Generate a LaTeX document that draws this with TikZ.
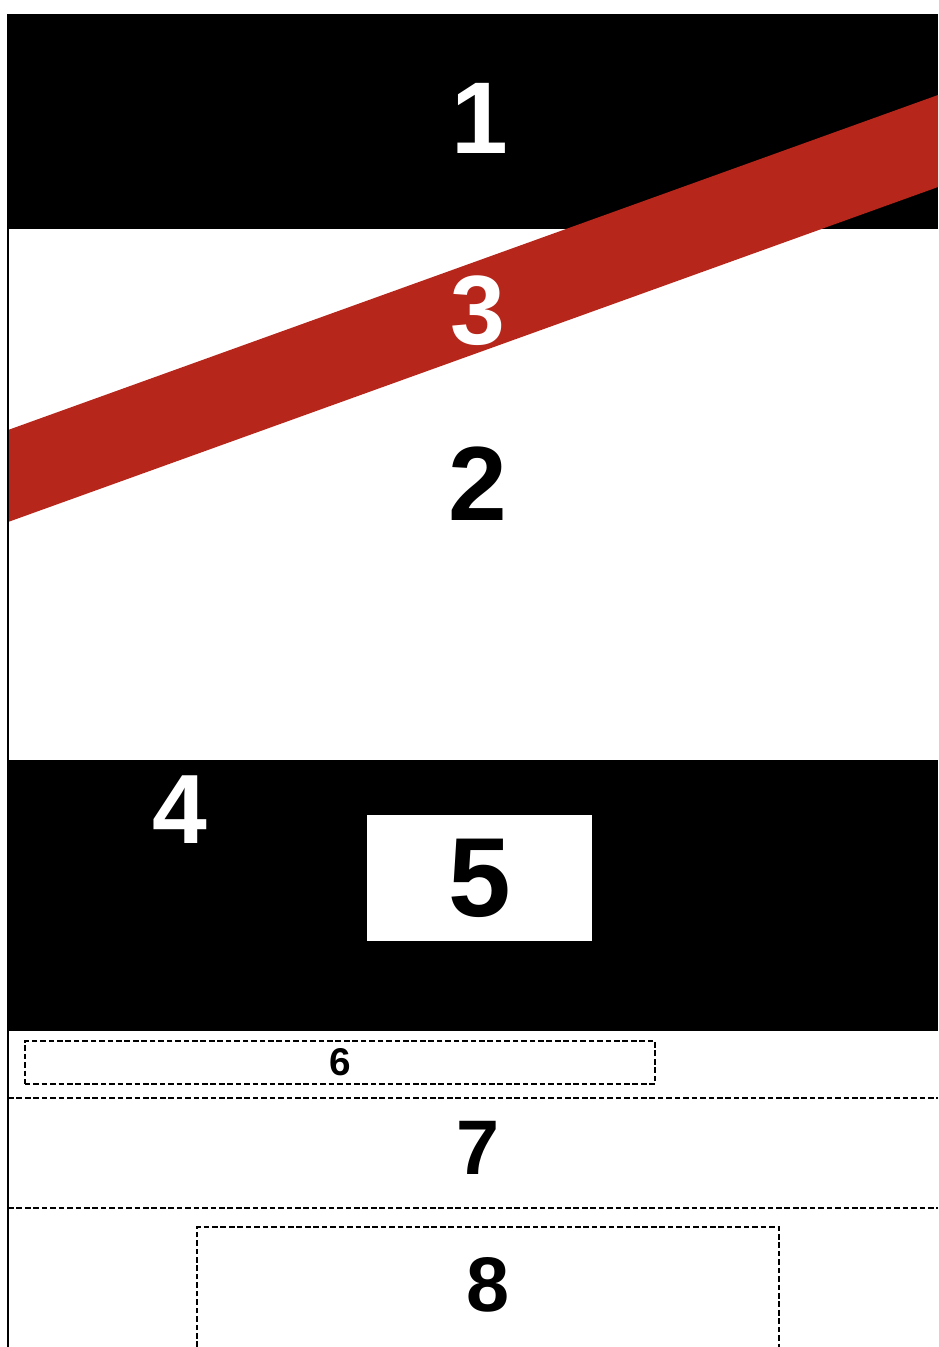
\documentclass[tikz,border=0pt]{standalone}
\usepackage{fontspec}
\setmainfont{Liberation Sans}
\usetikzlibrary{positioning}
\definecolor{bandred}{RGB}{183,38,27}

\begin{document}
\begin{tikzpicture}[
  x=0.01cm, y=-0.01cm,
  digit/.style={font=\bfseries, inner sep=0pt},
  dashline/.style={draw, line width=0.6pt, dash pattern=on 1.6pt off 0.8pt}
]
\useasboundingbox (0,0) rectangle (938,1347);
\fill[white] (0,0) rectangle (938,1347);
\fill[black] (8,14) rectangle (938,229);
\fill[black] (8,760) rectangle (938,1031);
\fill[bandred] (8,430) -- (938,95) -- (938,187) -- (8,522) -- cycle;
\draw[line width=0.8pt] (8,14) -- (8,1347);

\node[digit, white, font=\bfseries\fontsize{29}{29}\selectfont] (one) at (480,118) {1};
\node[digit, black, font=\bfseries\fontsize{30}{30}\selectfont] (two) at (478,484) {2};
\node[digit, white, font=\bfseries\fontsize{28}{28}\selectfont] (three) at (478,311) {3};
\node[digit, white, font=\bfseries\fontsize{28}{28}\selectfont] (four) at (180,810) {4};
\node[fill=white, minimum width=2.25cm, minimum height=1.26cm, inner sep=0pt,
      font=\bfseries\fontsize{32}{32}\selectfont] (five) at (479.5,878) {5};
\node[dashline, minimum width=6.3cm, minimum height=0.43cm, inner sep=0pt,
      font=\bfseries\fontsize{11}{11}\selectfont] (six) at (340,1062.5) {6};

\draw[dashline] (8,1098) -- (938,1098);
\node[digit, font=\bfseries\fontsize{22}{22}\selectfont] (seven) at (478,1148) {7};
\draw[dashline] (8,1208) -- (938,1208);

\draw[dashline] (197,1347) -- (197,1227) -- (779,1227) -- (779,1347);
\node[digit, font=\bfseries\fontsize{22}{22}\selectfont] (eight) at (488,1285) {8};
\end{tikzpicture}
\end{document}
